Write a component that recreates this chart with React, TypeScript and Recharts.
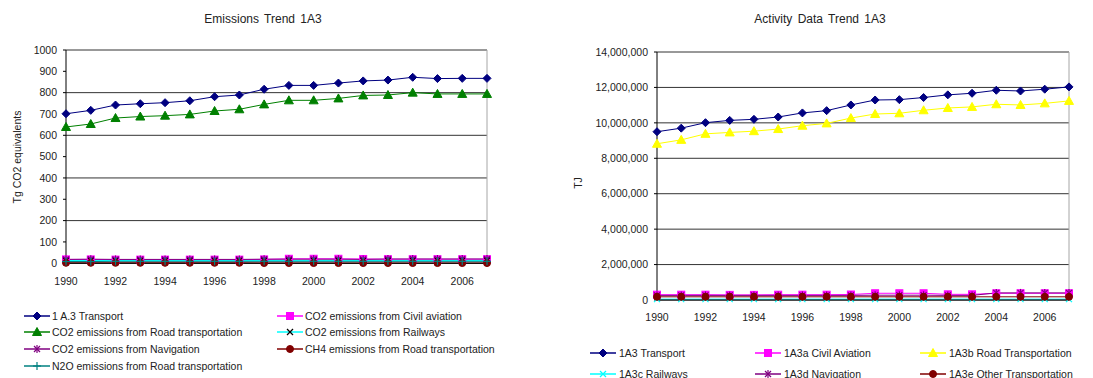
import React from "react";
import {
  CartesianGrid,
  Legend,
  Line,
  LineChart,
  ReferenceLine,
  XAxis,
  YAxis,
} from "recharts";

const FONT = '"Liberation Sans", Arial, sans-serif';

const YEARS = [
  "1990", "1991", "1992", "1993", "1994", "1995", "1996", "1997", "1998",
  "1999", "2000", "2001", "2002", "2003", "2004", "2005", "2006", "2007",
];

// Emissions, Tg CO2 equivalents
const EM_TRANSPORT = [701, 717, 742, 748, 753, 762, 781, 789, 816, 834, 834, 845, 855, 859, 872, 866, 867, 867];
const EM_CIVIL = [18, 18, 17, 17, 17, 17, 17, 17, 18, 21, 21, 21, 20, 19, 19, 19, 19, 19];
const EM_ROAD = [639, 653, 681, 688, 692, 698, 714, 722, 745, 764, 764, 773, 787, 789, 800, 794, 794, 794];
const EM_RAIL = [13, 13, 13, 13, 13, 13, 13, 13, 13, 13, 13, 13, 13, 13, 13, 13, 13, 13];
const EM_NAV = [18, 19, 18, 18, 18, 18, 18, 18, 19, 19, 19, 19, 18, 20, 20, 20, 20, 20];
const EM_CH4 = [2, 2, 2, 2, 2, 2, 2, 2, 1, 1, 1, 1, 1, 1, 1, 1, 1, 1];
const EM_N2O = [8, 8, 9, 9, 9, 9, 9, 9, 9, 9, 9, 9, 9, 9, 9, 9, 9, 9];

// Activity data, TJ
const AD_TRANSPORT = [9500000, 9700000, 10010000, 10140000, 10200000, 10330000, 10560000, 10690000, 11010000, 11290000, 11310000, 11430000, 11580000, 11670000, 11840000, 11800000, 11900000, 12030000];
const AD_CIVIL = [300000, 300000, 300000, 290000, 290000, 300000, 300000, 300000, 310000, 380000, 380000, 380000, 320000, 320000, 380000, 380000, 380000, 380000];
const AD_ROAD = [8820000, 9040000, 9380000, 9460000, 9530000, 9650000, 9840000, 9970000, 10270000, 10500000, 10540000, 10710000, 10840000, 10900000, 11050000, 11010000, 11100000, 11240000];
const AD_RAIL = [50000, 50000, 50000, 50000, 50000, 50000, 50000, 50000, 50000, 50000, 50000, 50000, 50000, 50000, 50000, 50000, 50000, 50000];
const AD_NAV = [260000, 260000, 260000, 260000, 260000, 260000, 260000, 260000, 260000, 270000, 270000, 270000, 260000, 260000, 400000, 400000, 400000, 400000];
const AD_OTHER = [180000, 180000, 180000, 180000, 180000, 180000, 180000, 180000, 180000, 180000, 180000, 180000, 180000, 180000, 180000, 180000, 180000, 180000];

const EM_TICKS = [0, 100, 200, 300, 400, 500, 600, 700, 800, 900, 1000];
const AD_TICKS = [0, 2000000, 4000000, 6000000, 8000000, 10000000, 12000000, 14000000];

type Shape = "diamond" | "square" | "triangle" | "cross" | "star" | "circle" | "plus";

interface SeriesDef {
  key: string;
  name: string;
  color: string;
  marker?: string;
  shape: Shape;
  values: number[];
}

const emSeries: SeriesDef[] = [
  { key: "transport", name: "1 A.3 Transport", color: "#000080", shape: "diamond", values: EM_TRANSPORT },
  { key: "civil", name: "CO2 emissions from Civil aviation", color: "#FF00FF", shape: "square", values: EM_CIVIL },
  { key: "road", name: "CO2 emissions from Road transportation", color: "#008000", shape: "triangle", values: EM_ROAD },
  { key: "rail", name: "CO2 emissions from Railways", color: "#00FFFF", marker: "#000000", shape: "cross", values: EM_RAIL },
  { key: "nav", name: "CO2 emissions from Navigation", color: "#800080", shape: "star", values: EM_NAV },
  { key: "ch4", name: "CH4 emissions from Road transportation", color: "#800000", shape: "circle", values: EM_CH4 },
  { key: "n2o", name: "N2O emissions from Road transportation", color: "#008080", shape: "plus", values: EM_N2O },
];

const adSeries: SeriesDef[] = [
  { key: "transport", name: "1A3 Transport", color: "#000080", shape: "diamond", values: AD_TRANSPORT },
  { key: "civil", name: "1A3a Civil Aviation", color: "#FF00FF", shape: "square", values: AD_CIVIL },
  { key: "road", name: "1A3b Road Transportation", color: "#FFFF00", shape: "triangle", values: AD_ROAD },
  { key: "rail", name: "1A3c Railways", color: "#00FFFF", shape: "cross", values: AD_RAIL },
  { key: "nav", name: "1A3d Navigation", color: "#800080", shape: "star", values: AD_NAV },
  { key: "other", name: "1A3e Other Transportation", color: "#800000", shape: "circle", values: AD_OTHER },
];

const buildRows = (series: SeriesDef[]) =>
  YEARS.map((year, i) => {
    const row: any = { year };
    series.forEach((s) => (row[s.key] = s.values[i]));
    return row;
  });

const drawMarker = (shape: Shape, x: number, y: number, color: string, key?: string) => {
  switch (shape) {
    case "diamond":
      return <polygon key={key} points={`${x},${y - 4} ${x + 4},${y} ${x},${y + 4} ${x - 4},${y}`} fill={color} stroke={color} />;
    case "square":
      return <rect key={key} x={x - 3.5} y={y - 3.5} width={7} height={7} fill={color} stroke={color} />;
    case "triangle":
      return <polygon key={key} points={`${x},${y - 4.5} ${x + 4.5},${y + 3.5} ${x - 4.5},${y + 3.5}`} fill={color} stroke={color} />;
    case "cross":
      return (
        <g key={key} stroke={color} strokeWidth={1.2}>
          <line x1={x - 3} y1={y - 3} x2={x + 3} y2={y + 3} />
          <line x1={x - 3} y1={y + 3} x2={x + 3} y2={y - 3} />
        </g>
      );
    case "star":
      return (
        <g key={key} stroke={color} strokeWidth={1.2}>
          <line x1={x - 3} y1={y - 3} x2={x + 3} y2={y + 3} />
          <line x1={x - 3} y1={y + 3} x2={x + 3} y2={y - 3} />
          <line x1={x} y1={y - 4} x2={x} y2={y + 4} />
        </g>
      );
    case "circle":
      return <circle key={key} cx={x} cy={y} r={3.5} fill={color} stroke={color} />;
    case "plus":
      return (
        <g key={key} stroke={color} strokeWidth={1.2}>
          <line x1={x - 4} y1={y} x2={x + 4} y2={y} />
          <line x1={x} y1={y - 4} x2={x} y2={y + 4} />
        </g>
      );
  }
};

interface LegendGridProps {
  series: SeriesDef[];
  cols: number;
  colW: number;
  rowH: number;
  padLeft: number;
  iconW: number;
  gap: number;
}

const LegendGrid = ({ series, cols, colW, rowH, padLeft, iconW, gap }: LegendGridProps) => (
  <div
    style={{
      display: "grid",
      gridTemplateColumns: `repeat(${cols}, ${colW}px)`,
      gridAutoRows: `${rowH}px`,
      paddingLeft: padLeft,
      fontFamily: FONT,
      fontSize: 10.5,
      color: "#222",
    }}
  >
    {series.map((s) => (
      <div key={s.key} style={{ display: "flex", alignItems: "center", whiteSpace: "nowrap" }}>
        <svg width={iconW} height={10} style={{ marginRight: gap, flex: "none" }}>
          <line x1={0} y1={5} x2={iconW} y2={5} stroke={s.color} strokeWidth={1.5} />
          {drawMarker(s.shape, iconW / 2, 5, s.marker ?? s.color)}
        </svg>
        <span>{s.name}</span>
      </div>
    ))}
  </div>
);

interface TrendChartProps {
  series: SeriesDef[];
  width: number;
  height: number;
  margin: { top: number; right: number; left: number; bottom: number };
  xHeight: number;
  yWidth: number;
  yTicks: number[];
  yLabel: string;
  yLabelX: number;
  yLabelY: number;
  fmt?: (v: number) => string;
  legend: Omit<LegendGridProps, "series">;
}

const tickStyle = { fontSize: 10.5, fill: "#222", fontFamily: FONT };

const TrendChart = ({ series, width, height, margin, xHeight, yWidth, yTicks, yLabel, yLabelX, yLabelY, fmt, legend }: TrendChartProps) => (
  <LineChart width={width} height={height} data={buildRows(series)} margin={margin}>
    <CartesianGrid vertical={false} stroke="#333" />
    <XAxis
      dataKey="year"
      interval={1}
      tickLine={false}
      tickSize={0}
      tickMargin={14}
      height={xHeight}
      stroke="#000"
      tick={tickStyle}
    />
    <YAxis
      width={yWidth}
      domain={[yTicks[0], yTicks[yTicks.length - 1]]}
      ticks={yTicks}
      tickSize={3}
      tickMargin={6}
      stroke="#000"
      tickFormatter={fmt}
      tick={tickStyle}
      label={{
        content: () => (
          <text
            x={yLabelX}
            y={yLabelY}
            transform={`rotate(-90 ${yLabelX} ${yLabelY})`}
            textAnchor="middle"
            dominantBaseline="central"
            fontSize={10.5}
            fontFamily={FONT}
            fill="#222"
          >
            {yLabel}
          </text>
        ),
      }}
    />
    <ReferenceLine x={YEARS[YEARS.length - 1]} stroke="#a6a6a6" />
    {series.map((s) => (
      <Line
        key={s.key}
        dataKey={s.key}
        name={s.name}
        type="linear"
        stroke={s.color}
        strokeWidth={1}
        isAnimationActive={false}
        dot={(p: any) => drawMarker(s.shape, p.cx, p.cy, s.marker ?? s.color, `${s.key}-${p.index}`)}
        activeDot={false}
      />
    ))}
    <Legend
      verticalAlign="bottom"
      wrapperStyle={{ left: 0, width: width }}
      content={() => <LegendGrid series={series} {...legend} />}
    />
  </LineChart>
);

const titleStyle = (cx: number): React.CSSProperties => ({
  position: "absolute",
  top: 12,
  left: cx,
  transform: "translateX(-50%)",
  fontFamily: FONT,
  fontSize: 12,
  color: "#222",
  whiteSpace: "nowrap",
  wordSpacing: 2,
});

export default function App() {
  return (
    <div style={{ position: "relative", width: 1093, height: 378, overflow: "hidden", background: "#fff" }}>
      <style>{`body{margin:0;overflow:hidden}`}</style>
      <div style={{ position: "absolute", left: 0, top: 0, width: 545, height: 378 }}>
        <TrendChart
          series={emSeries}
          width={545}
          height={378}
          margin={{ top: 50, right: 58, left: 0, bottom: 4 }}
          xHeight={44}
          yWidth={66}
          yTicks={EM_TICKS}
          yLabel="Tg CO2 equivalents"
          yLabelX={17}
          yLabelY={157}
          legend={{ cols: 2, colW: 253, rowH: 16.7, padLeft: 24, iconW: 26, gap: 2 }}
        />
        <div style={titleStyle(263)}>Emissions Trend 1A3</div>
      </div>
      <div style={{ position: "absolute", left: 545, top: 0, width: 548, height: 378, overflow: "hidden" }}>
        <TrendChart
          series={adSeries}
          width={548}
          height={390}
          margin={{ top: 52, right: 24, left: 0, bottom: 6 }}
          xHeight={42}
          yWidth={112}
          yTicks={AD_TICKS}
          yLabel="TJ"
          yLabelX={33}
          yLabelY={183}
          fmt={(v) => v.toLocaleString("en-US")}
          legend={{ cols: 3, colW: 165, rowH: 21, padLeft: 45, iconW: 26, gap: 3 }}
        />
        <div style={titleStyle(275)}>Activity Data Trend 1A3</div>
      </div>
    </div>
  );
}
